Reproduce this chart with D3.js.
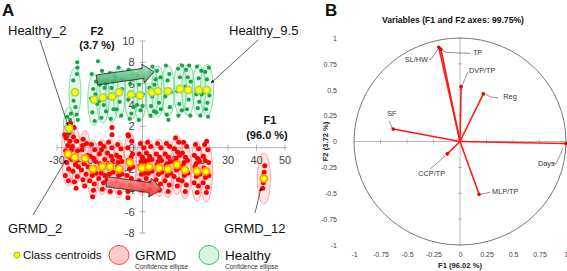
<!DOCTYPE html>
<html>
<head>
<meta charset="utf-8">
<script src="https://cdn.jsdelivr.net/npm/d3@7"></script>
<style>
  body { margin: 0; background: #fff; }
  text { font-family: "Liberation Sans", Arial, sans-serif; }
</style>
</head>
<body>
<div id="chart"></div>
<script>
// ---------- panel A : observations (F1 x F2) ----------
var grmdCentroidX = [-26.1, -23.7, -20.2, -17.4, -14.2, -11.4, -8.2, -4.4, -0.2, 2.3, 5.8, 8.9, 12.1, 14.9, 19.1, 22.3, 42.6];
var grmdCentroidY = [-0.6, -0.9, -1.0, -2.0, -1.8, -1.8, -2.0, -1.4, -1.9, -1.8, -1.9, -2.0, -1.6, -2.1, -2.2, -2.2, -2.9];
var grmdEllipseRx = [2.3, 2.2, 2.2, 2.2, 2.1, 2.2, 2.2, 2.3, 2.2, 2.1, 2.2, 2.2, 2.3, 2.2, 2.2, 2.3, 2.3];
var grmdEllipseRy = [3.0, 2.7, 2.6, 2.7, 2.6, 2.6, 2.7, 2.8, 2.6, 2.6, 2.7, 2.7, 2.8, 2.7, 2.8, 2.9, 2.4];

var healthyCentroidX = [-25.8, -23.7, -17.0, -13.9, -10.7, -8.2, -4.0, -0.9, 3.3, 5.4, 8.9, 13.2, 16.0, 19.8, 22.6];
var healthyCentroidY = [1.8, 5.2, 4.5, 4.7, 4.8, 5.2, 5.0, 4.9, 5.2, 5.3, 5.3, 5.5, 5.4, 5.4, 5.4];
var healthyEllipseRx = [2.0, 2.1, 2.2, 2.2, 2.2, 2.2, 2.3, 2.2, 2.2, 2.2, 2.3, 2.2, 2.2, 2.3, 2.3];
var healthyEllipseRy = [2.0, 2.3, 2.4, 2.4, 2.4, 2.4, 2.4, 2.4, 2.4, 2.4, 2.4, 2.4, 2.4, 2.4, 2.4];

var grmdPoints = [
  [-26.5,1.9],[-25.8,1.4],[-26.8,0.9],[-25.5,0.6],[-26.2,0.2],[-27.0,-0.3],[-25.4,-0.9],[-26.6,-1.4],[-25.9,-2.0],[-27.1,-2.6],[-26.0,-3.1],[-25.2,2.3],[-27.3,1.2],[-24.9,-0.2],[-26.3,-0.8],
  [-24.2,1.0],[-23.1,0.6],[-24.6,0.1],[-22.8,-0.3],[-23.5,-1.6],[-24.4,-2.2],[-22.9,-2.7],[-23.9,-3.2],[-24.8,-1.1],[-22.5,-1.8],[-23.3,-3.8],[-24.0,1.9],[-23.0,-1.2],
  [-20.8,0.8],[-19.6,0.4],[-21.2,-0.2],[-19.3,-0.7],[-20.5,-1.5],[-21.4,-2.1],[-19.8,-2.5],[-20.9,-3.0],[-19.1,-1.8],[-20.3,-3.6],[-21.0,0.2],[-20.0,-0.9],
  [-17.9,0.3],[-16.8,-0.2],[-18.3,-0.8],[-16.5,-1.3],[-17.6,-2.6],[-18.5,-3.1],[-16.9,-3.4],[-17.2,-4.0],[-18.0,-1.9],[-16.3,-2.4],[-17.5,-4.6],[-17.1,-1.0],
  [-14.8,0.4],[-13.6,0.1],[-15.1,-0.6],[-13.3,-1.1],[-14.5,-2.4],[-15.3,-2.9],[-13.7,-3.3],[-14.1,-3.9],[-14.9,-1.5],[-13.2,-2.6],[-14.4,-0.2],[-13.9,-1.8],
  [-11.9,0.5],[-10.8,0.0],[-12.3,-0.5],[-10.5,-1.2],[-11.6,-2.5],[-12.4,-3.0],[-10.9,-3.4],[-11.3,-4.1],[-12.1,-1.6],[-10.4,-2.3],[-11.0,-0.8],[-10.7,1.9],[-10.7,1.2],
  [-8.7,0.3],[-7.6,-0.1],[-9.1,-0.7],[-7.3,-1.3],[-8.4,-2.6],[-9.2,-3.2],[-7.7,-3.5],[-8.1,-4.2],[-8.9,-1.8],[-7.2,-2.5],[-8.0,-0.9],[-8.5,-1.4],
  [-4.9,1.1],[-3.8,0.6],[-5.2,0.0],[-3.5,-0.6],[-4.6,-2.0],[-5.4,-2.6],[-3.9,-2.9],[-4.3,-3.5],[-5.0,-1.2],[-3.4,-1.8],[-5.1,1.2],[-5.1,-4.1],[-5.1,-4.7],[-4.0,-0.9],
  [-0.7,0.4],[0.4,0.0],[-1.1,-0.6],[0.7,-1.2],[-0.4,-2.5],[-1.2,-3.1],[0.3,-3.4],[-0.1,-4.0],[-0.9,-1.7],[0.8,-2.4],[0.0,-0.9],[-0.5,-1.3],
  [1.8,0.5],[2.9,0.1],[1.4,-0.5],[3.2,-1.1],[2.1,-2.4],[1.3,-2.9],[2.8,-3.3],[2.4,-3.9],[1.6,-1.5],[3.3,-2.2],[2.5,-0.8],[2.0,-1.2],
  [5.3,0.4],[6.4,0.0],[4.9,-0.6],[6.7,-1.2],[5.6,-2.5],[4.8,-3.0],[6.3,-3.4],[5.9,-4.0],[5.1,-1.6],[6.8,-2.3],[6.0,-0.9],[5.5,-1.3],
  [8.4,0.4],[9.5,0.1],[8.0,-0.6],[9.8,-1.3],[8.7,-2.6],[7.9,-3.1],[9.4,-3.5],[9.0,-4.1],[8.2,-1.7],[9.9,-2.4],[9.1,-0.9],[8.6,-1.5],
  [11.6,0.9],[12.7,0.5],[11.2,-0.1],[13.0,-0.7],[11.9,-2.1],[11.1,-2.7],[12.6,-3.0],[12.2,-3.6],[11.4,-1.3],[13.1,-1.9],[12.3,-0.4],[11.8,-1.0],
  [14.4,0.5],[15.5,0.1],[14.0,-0.5],[15.8,-1.2],[14.7,-2.6],[13.9,-3.1],[15.4,-3.5],[15.0,-4.1],[14.2,-1.7],[15.9,-2.4],[15.1,-0.9],[14.6,-1.4],
  [18.6,0.3],[19.7,-0.1],[18.2,-0.7],[20.0,-1.3],[18.9,-2.7],[18.1,-3.3],[19.6,-3.6],[19.2,-4.2],[18.4,-1.8],[20.1,-2.5],[19.3,-1.0],[18.8,-1.5],
  [21.8,0.3],[22.9,-0.2],[21.4,-0.8],[23.2,-1.4],[22.1,-2.8],[21.3,-3.3],[22.8,-3.7],[22.4,-4.2],[21.6,-1.9],[23.3,-2.6],[22.5,0.6],[22.0,-1.2],
  [42.9,-1.7],[42.7,-2.3],[42.4,-3.3],[42.2,-3.8],[42.5,-2.6]
];

var healthyPoints = [
  [-25.4,2.6],[-26.2,1.1],[-25.1,3.2],[-26.4,2.9],
  [-22.9,8.0],[-22.8,7.5],[-23.0,6.9],[-24.3,6.3],[-23.5,3.8],[-23.1,3.1],[-24.2,4.4],[-22.7,2.6],
  [-17.8,6.9],[-16.3,6.2],[-17.3,5.5],[-15.9,4.1],[-17.6,3.3],[-16.8,2.5],[-18.1,4.6],[-16.5,5.0],[-15.6,8.1],
  [-14.2,7.2],[-12.9,6.0],[-14.9,5.9],[-13.6,4.0],[-14.4,2.8],[-12.8,3.4],[-15.0,4.4],[-13.3,5.6],
  [-11.5,7.0],[-9.8,6.8],[-10.9,5.6],[-11.8,4.7],[-10.2,3.6],[-11.1,2.7],[-9.6,4.9],[-10.5,6.2],
  [-8.4,7.5],[-7.3,6.4],[-9.3,6.5],[-8.0,4.3],[-9.0,3.6],[-7.5,3.0],[-8.7,5.1],[-7.2,5.5],
  [-4.9,7.3],[-3.6,6.9],[-4.3,6.0],[-2.9,4.9],[-5.0,4.5],[-3.9,3.2],[-4.5,2.7],[-3.1,3.8],
  [-1.8,6.8],[-0.5,7.3],[-1.2,5.9],[0.1,5.0],[-1.9,4.0],[-0.7,3.5],[-1.3,2.6],[0.0,3.9],
  [2.6,7.0],[3.5,7.6],[2.4,5.6],[4.2,5.9],[3.0,3.9],[4.0,3.4],[2.8,3.0],[3.4,4.8],
  [5.1,7.2],[6.3,6.6],[4.6,6.4],[5.8,4.2],[6.4,3.6],[4.9,3.3],[5.3,5.1],
  [8.2,7.7],[9.4,6.9],[8.8,6.3],[10.0,5.2],[8.0,4.8],[9.6,3.8],[8.5,3.1],[9.1,2.6],
  [12.5,7.4],[13.9,7.7],[13.1,6.6],[12.2,5.3],[14.1,5.5],[12.9,4.1],[13.8,3.5],[12.6,3.0],
  [15.3,7.3],[16.4,7.7],[16.9,6.2],[15.0,5.7],[16.2,4.5],[15.6,3.6],[16.8,3.0],[15.9,6.6],
  [19.1,7.6],[20.6,7.2],[19.7,6.5],[18.9,5.0],[20.7,5.0],[19.4,3.7],[20.3,3.0],[19.9,4.3],
  [22.0,7.1],[23.3,7.5],[22.6,6.4],[21.7,5.2],[23.5,4.9],[22.3,3.6],[23.0,2.9],[22.8,4.2]
];

var xTicksA = [-30, -20, -10, 0, 10, 20, 30, 40, 50];
var yTicksA = [-8, -6, -4, -2, 0, 2, 4, 6, 8, 10];

// trend arrows (start/end in F1,F2 units)
var healthyTrend = [[-16.0, 6.35], [4.0, 7.1]];
var grmdTrend = [[-12.5, -3.2], [6.8, -3.9]];

// ---------- panel B : variables (correlation circle) ----------
var varNames = ["Days", "TP", "SL/HW", "DVP/TP", "Reg", "SF", "CCP/TP", "MLP/TP"];
var varF1 = [1.0, -0.18, -0.2, 0.01, 0.22, -0.63, -0.12, 0.18];
var varF2 = [-0.02, 0.89, 0.91, 0.53, 0.46, 0.12, -0.12, -0.51];
var ticksB = [-1, -0.75, -0.5, -0.25, 0, 0.25, 0.5, 0.75, 1];

var W = 567, H = 271;
var svg = d3.select("#chart").append("svg")
  .attr("width", W).attr("height", H)
  .style("background", "#fff");

var defs = svg.append("defs");
defs.append("marker")
  .attr("id", "tip").attr("viewBox", "0 0 10 10")
  .attr("refX", 9).attr("refY", 5)
  .attr("markerWidth", 5).attr("markerHeight", 5)
  .attr("orient", "auto")
  .append("path").attr("d", "M0,1 L10,5 L0,9 z").attr("fill", "#111");

var gG = defs.append("linearGradient").attr("id", "gGreen").attr("x1", 0).attr("y1", 0).attr("x2", 0).attr("y2", 1);
gG.append("stop").attr("offset", "0%").attr("stop-color", "#b6e6c5");
gG.append("stop").attr("offset", "100%").attr("stop-color", "#2fa85a");
var gR = defs.append("linearGradient").attr("id", "gRed").attr("x1", 0).attr("y1", 0).attr("x2", 0).attr("y2", 1);
gR.append("stop").attr("offset", "0%").attr("stop-color", "#ff9a9a");
gR.append("stop").attr("offset", "100%").attr("stop-color", "#f02020");

// ===== panel A =====
var xA = d3.scaleLinear().domain([-30, 50]).range([57, 285]);
var yA = d3.scaleLinear().domain([-8, 10]).range([233, 41]);
var gA = svg.append("g");

// confidence ellipses
gA.selectAll(".hell").data(healthyCentroidX).enter().append("ellipse")
  .attr("cx", function(d) { return xA(d); })
  .attr("cy", function(d, i) { return yA(healthyCentroidY[i]); })
  .attr("rx", function(d, i) { return xA(healthyEllipseRx[i]) - xA(0); })
  .attr("ry", function(d, i) { return yA(0) - yA(healthyEllipseRy[i]); })
  .attr("fill", "rgba(60,190,110,0.13)")
  .attr("stroke", "#6fd096").attr("stroke-width", 0.8);

gA.selectAll(".gell").data(grmdCentroidX).enter().append("ellipse")
  .attr("cx", function(d) { return xA(d); })
  .attr("cy", function(d, i) { return yA(grmdCentroidY[i]); })
  .attr("rx", function(d, i) { return xA(grmdEllipseRx[i]) - xA(0); })
  .attr("ry", function(d, i) { return yA(0) - yA(grmdEllipseRy[i]); })
  .attr("fill", "rgba(255,60,60,0.12)")
  .attr("stroke", "#ff9090").attr("stroke-width", 0.8);

// axes through origin
var axisCol = "#a0a0a0";
gA.append("line").attr("x1", xA(-30)).attr("x2", xA(50) + 2).attr("y1", yA(0)).attr("y2", yA(0))
  .attr("stroke", axisCol).attr("stroke-width", 0.8);
gA.append("line").attr("x1", xA(0)).attr("x2", xA(0)).attr("y1", yA(10)).attr("y2", yA(-8))
  .attr("stroke", axisCol).attr("stroke-width", 0.8);
gA.selectAll(".xt").data(xTicksA).enter().append("line")
  .attr("x1", function(d) { return xA(d); }).attr("x2", function(d) { return xA(d); })
  .attr("y1", yA(0) - 3).attr("y2", yA(0) + 3).attr("stroke", axisCol).attr("stroke-width", 0.8);
gA.selectAll(".yt").data(yTicksA).enter().append("line")
  .attr("y1", function(d) { return yA(d); }).attr("y2", function(d) { return yA(d); })
  .attr("x1", xA(0) - 3).attr("x2", xA(0) + 3).attr("stroke", axisCol).attr("stroke-width", 0.8);
gA.selectAll(".xl").data(xTicksA).enter().append("text")
  .attr("x", function(d) { return xA(d); }).attr("y", yA(0) + 16)
  .attr("text-anchor", "middle").attr("font-size", 11).attr("fill", "#444")
  .text(function(d) { return d; });
gA.selectAll(".yl").data(yTicksA).enter().append("text")
  .attr("x", xA(0) - 8).attr("y", function(d) { return yA(d) + 4; })
  .attr("text-anchor", "end").attr("font-size", 11).attr("fill", "#444")
  .text(function(d) { return d; });

// observations
gA.selectAll(".hp").data(healthyPoints).enter().append("circle")
  .attr("cx", function(d) { return xA(d[0]); }).attr("cy", function(d) { return yA(d[1]); })
  .attr("r", 2.1).attr("fill", "#12a648");
gA.selectAll(".gp").data(grmdPoints).enter().append("circle")
  .attr("cx", function(d) { return xA(d[0]); }).attr("cy", function(d) { return yA(d[1]); })
  .attr("r", 2.5).attr("fill", "#ff0000");

// class centroids
gA.selectAll(".hc").data(healthyCentroidX).enter().append("circle")
  .attr("cx", function(d) { return xA(d); }).attr("cy", function(d, i) { return yA(healthyCentroidY[i]); })
  .attr("r", 3.6).attr("fill", "#ffff00").attr("stroke", "#a9d84a").attr("stroke-width", 1.8);
gA.selectAll(".gc").data(grmdCentroidX).enter().append("circle")
  .attr("cx", function(d) { return xA(d); }).attr("cy", function(d, i) { return yA(grmdCentroidY[i]); })
  .attr("r", 3.6).attr("fill", "#ffff00").attr("stroke", "#ff9a00").attr("stroke-width", 1.8);

// block arrows showing the time trend
function blockArrow(p0, p1, sw, hw, hl) {
  var x0 = xA(p0[0]), y0 = yA(p0[1]), x1 = xA(p1[0]), y1 = yA(p1[1]);
  var L = Math.hypot(x1 - x0, y1 - y0), ux = (x1 - x0) / L, uy = (y1 - y0) / L;
  var nx = -uy, ny = ux, bx = x1 - ux * hl, by = y1 - uy * hl;
  var pts = [[x0 + nx * sw, y0 + ny * sw], [bx + nx * sw, by + ny * sw], [bx + nx * hw, by + ny * hw],
    [x1, y1], [bx - nx * hw, by - ny * hw], [bx - nx * sw, by - ny * sw], [x0 - nx * sw, y0 - ny * sw]];
  return "M" + pts.map(function(p) { return p[0].toFixed(1) + "," + p[1].toFixed(1); }).join("L") + "Z";
}
gA.append("path").attr("d", blockArrow(healthyTrend[0], healthyTrend[1], 5, 9.5, 11))
  .attr("fill", "url(#gGreen)").attr("fill-opacity", 0.9).attr("stroke", "#333").attr("stroke-width", 0.9);
gA.append("path").attr("d", blockArrow(grmdTrend[0], grmdTrend[1], 5, 9.5, 12))
  .attr("fill", "url(#gRed)").attr("fill-opacity", 0.9).attr("stroke", "#333").attr("stroke-width", 0.9);

// annotations
function leader(x1, y1, x2, y2) {
  gA.append("line").attr("x1", x1).attr("y1", y1).attr("x2", x2).attr("y2", y2)
    .attr("stroke", "#222").attr("stroke-width", 0.7).attr("marker-end", "url(#tip)");
}
leader(40, 40, xA(healthyCentroidX[0]) - 1, yA(healthyCentroidY[0]) - 3);
leader(258, 40, 211, 83);
leader(33, 215, 66, 160);
leader(255, 213, 261, 188);

function label(x, y, txt, size, weight, anchor) {
  return svg.append("text").attr("x", x).attr("y", y).attr("font-size", size)
    .attr("font-weight", weight || "normal").attr("text-anchor", anchor || "start")
    .attr("fill", "#111").text(txt);
}
label(2, 16, "A", 17, "bold");
label(8, 35, "Healthy_2", 13);
label(229, 35, "Healthy_9.5", 13);
label(8, 233, "GRMD_2", 13);
label(224, 233, "GRMD_12", 13);
label(97, 35, "F2", 11, "bold", "middle");
label(97, 49, "(3.7 %)", 11, "bold", "middle");
label(270, 124, "F1", 11, "bold", "middle");
label(267, 139, "(96.0 %)", 11, "bold", "middle");

// legend
svg.append("circle").attr("cx", 17).attr("cy", 255).attr("r", 3)
  .attr("fill", "#ffff00").attr("stroke", "#999900").attr("stroke-width", 0.8);
label(23, 259, "Class centroids", 11.5);
svg.append("ellipse").attr("cx", 119).attr("cy", 255).attr("rx", 10).attr("ry", 9.5)
  .attr("fill", "#ffcaca").attr("stroke", "#ff4040").attr("stroke-width", 1);
label(135, 260, "GRMD", 13.5);
label(135, 268.5, "Confidence ellipse", 6.5).attr("fill", "#333");
svg.append("ellipse").attr("cx", 209).attr("cy", 255).attr("rx", 10).attr("ry", 9.5)
  .attr("fill", "#dcf3e3").attr("stroke", "#3cc063").attr("stroke-width", 1);
label(225, 260, "Healthy", 13.5);
label(225, 268.5, "Confidence ellipse", 6.5).attr("fill", "#333");

// ===== panel B =====
var xB = d3.scaleLinear().domain([-1, 1]).range([354, 566]);
var yB = d3.scaleLinear().domain([-1, 1]).range([245, 38]);
var gB = svg.append("g");

label(325, 16, "B", 17, "bold");
label(453, 23, "Variables (F1 and F2 axes: 99.75%)", 8.6, "bold", "middle");

gB.append("ellipse").attr("cx", xB(0)).attr("cy", yB(0))
  .attr("rx", xB(1) - xB(0)).attr("ry", yB(0) - yB(1))
  .attr("fill", "none").attr("stroke", "#555").attr("stroke-width", 0.8);

var axB = "#9a9a9a";
gB.append("line").attr("x1", xB(-1)).attr("x2", xB(1)).attr("y1", yB(0)).attr("y2", yB(0))
  .attr("stroke", axB).attr("stroke-width", 0.7);
gB.append("line").attr("x1", xB(0)).attr("x2", xB(0)).attr("y1", yB(1)).attr("y2", yB(-1))
  .attr("stroke", axB).attr("stroke-width", 0.7);
gB.selectAll(".bxt").data(ticksB).enter().append("line")
  .attr("x1", function(d) { return xB(d); }).attr("x2", function(d) { return xB(d); })
  .attr("y1", yB(0) - 2).attr("y2", yB(0) + 2).attr("stroke", axB).attr("stroke-width", 0.7);
gB.selectAll(".byt").data(ticksB).enter().append("line")
  .attr("y1", function(d) { return yB(d); }).attr("y2", function(d) { return yB(d); })
  .attr("x1", xB(0) - 2).attr("x2", xB(0) + 2).attr("stroke", axB).attr("stroke-width", 0.7);

// frame-style tick labels (no lines)
var axisLeftB = gB.append("g").attr("transform", "translate(340,0)")
  .call(d3.axisLeft(yB).tickValues(ticksB).tickSize(0).tickPadding(3).tickFormat(function(d) { return d; }));
var axisBottomB = gB.append("g").attr("transform", "translate(0,249)")
  .call(d3.axisBottom(xB).tickValues(ticksB).tickSize(0).tickPadding(3).tickFormat(function(d) { return d; }));
[axisLeftB, axisBottomB].forEach(function(a) {
  a.select(".domain").remove();
  a.selectAll("text").attr("font-size", 7).attr("fill", "#444")
    .style("font-family", "'Liberation Sans', Arial, sans-serif");
});

label(460, 268, "F1 (96.02 %)", 7.6, "bold", "middle").attr("fill", "#222");
svg.append("text").attr("transform", "translate(328," + yB(0) + ") rotate(-90)")
  .attr("text-anchor", "middle").attr("font-size", 7.6).attr("font-weight", "bold")
  .attr("fill", "#222").text("F2 (3.72 %)");

// loading vectors
gB.selectAll(".vec").data(varNames).enter().append("line")
  .attr("x1", xB(0)).attr("y1", yB(0))
  .attr("x2", function(d, i) { return xB(varF1[i]); })
  .attr("y2", function(d, i) { return yB(varF2[i]); })
  .attr("stroke", "#ff1a1a").attr("stroke-width", 1.6);
gB.selectAll(".vend").data(varNames).enter().append("circle")
  .attr("cx", function(d, i) { return xB(varF1[i]); })
  .attr("cy", function(d, i) { return yB(varF2[i]); })
  .attr("r", 1.8).attr("fill", "#e00000");

// variable labels with leader lines (label anchor in pixel offsets from vector end)
var varLabelLayout = {
  "Days":   { tx: -28, ty: 22, path: [[-3, 5], [-10, 20], [-13, 20]] },
  "TP":     { tx: 32, ty: 6, path: [[2, 1], [5, 3], [29, 4]] },
  "SL/HW":  { tx: -34, ty: 15, path: [[0, 1], [-8, 12], [-10, 12]] },
  "DVP/TP": { tx: 8, ty: -14, path: [[1, -1], [7, -15]] },
  "Reg":    { tx: 20, ty: 5, path: [[2, 0], [7, 3], [15, 4]] },
  "SF":     { tx: -6, ty: -13, path: [[-1, -1], [-4, -8]] },
  "CCP/TP": { tx: -29, ty: 22, path: [[-2, 2], [-17, 15]] },
  "MLP/TP": { tx: 13, ty: 0, path: [[2, 0], [11, -2]] }
};
varNames.forEach(function(n, i) {
  var px = xB(varF1[i]), py = yB(varF2[i]), L = varLabelLayout[n];
  gB.append("path")
    .attr("d", d3.line()(L.path.map(function(p) { return [px + p[0], py + p[1]]; })))
    .attr("fill", "none").attr("stroke", "#444").attr("stroke-width", 0.6);
  gB.append("text").attr("x", px + L.tx).attr("y", py + L.ty)
    .attr("font-size", 7.3).attr("fill", "#333").text(n);
});
</script>
</body>
</html>
